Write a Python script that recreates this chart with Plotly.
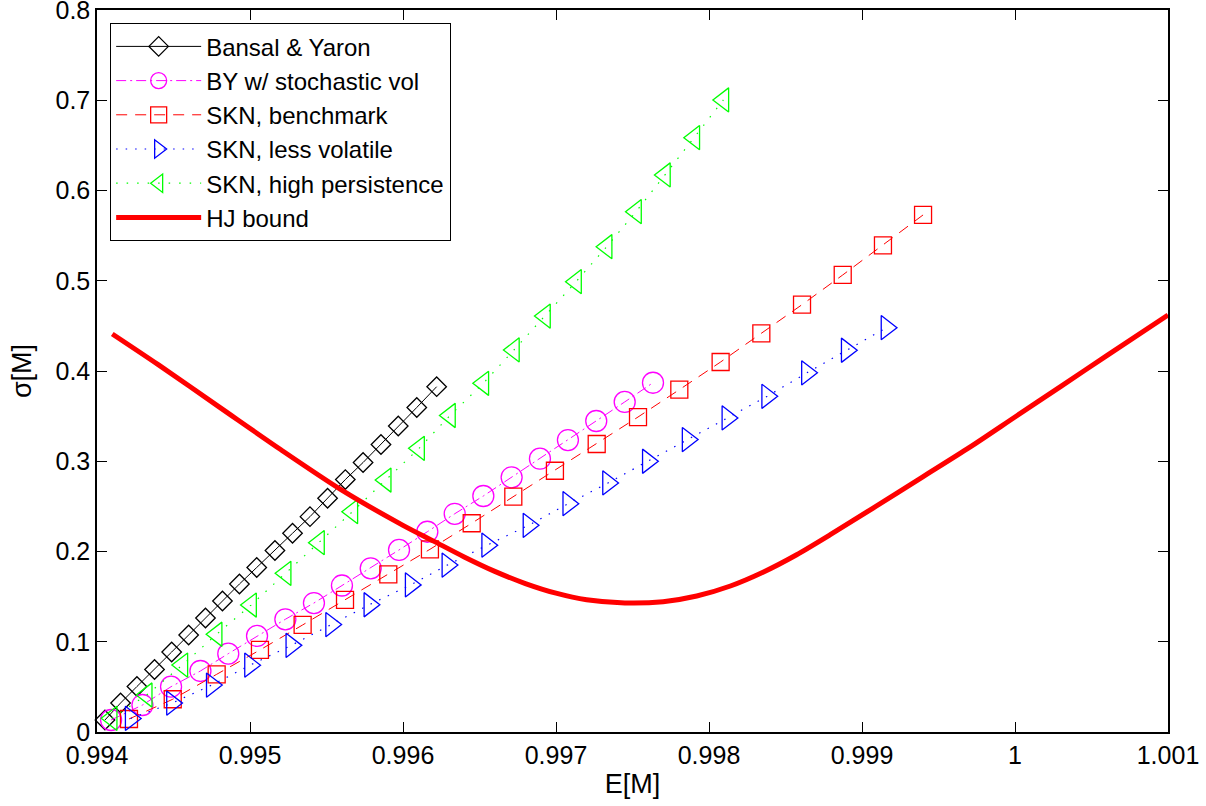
import plotly.graph_objects as go

# ---------------- data ----------------
by_x = [0.994052, 0.994154, 0.994261, 0.994376, 0.994488, 0.994599, 0.994709, 0.994820,
        0.994931, 0.995044, 0.995163, 0.995278, 0.995392, 0.995507, 0.995623, 0.995739,
        0.995856, 0.995969, 0.996090, 0.996220]
by_y = [0.0133, 0.0321, 0.0504, 0.0693, 0.0886, 0.1075, 0.1263, 0.1452, 0.1640, 0.1823,
        0.2011, 0.2202, 0.2386, 0.2590, 0.2797, 0.2986, 0.3186, 0.3391, 0.3596, 0.3826]

bysv_x = [0.994092, 0.994297, 0.994484, 0.994676, 0.994858, 0.995046, 0.995231, 0.995418,
          0.995601, 0.995789, 0.995974, 0.996159, 0.996338, 0.996525, 0.996710, 0.996895,
          0.997078, 0.997263, 0.997449, 0.997634]
bysv_y = [0.0133, 0.0299, 0.0502, 0.0676, 0.0868, 0.1064, 0.1249, 0.1429, 0.1623, 0.1814,
          0.2017, 0.2219, 0.2418, 0.2615, 0.2822, 0.3028, 0.3235, 0.3446, 0.3657, 0.3870]

skn_x = [0.994209, 0.994495, 0.994782, 0.995065, 0.995344, 0.995621, 0.995904, 0.996176,
         0.996449, 0.996721, 0.996993, 0.997266, 0.997536, 0.997806, 0.998076, 0.998342,
         0.998608, 0.998874, 0.999137, 0.999399]
skn_y = [0.0144, 0.0363, 0.0639, 0.0909, 0.1186, 0.1463, 0.1747, 0.2024, 0.2313, 0.2607,
         0.2895, 0.3191, 0.3490, 0.3793, 0.4100, 0.4418, 0.4735, 0.5064, 0.5393, 0.5729]

lv_x = [0.99422, 0.99449, 0.99475, 0.99500, 0.99527, 0.99553, 0.99578, 0.99605, 0.99629,
        0.99655, 0.99682, 0.99708, 0.99734, 0.99760, 0.99786, 0.99812, 0.99838, 0.99864,
        0.99890, 0.99916]
lv_y = [0.015, 0.032, 0.052, 0.074, 0.096, 0.119, 0.141, 0.163, 0.185, 0.207, 0.229,
        0.253, 0.276, 0.300, 0.324, 0.348, 0.372, 0.398, 0.423, 0.448]

hp_x = [0.994096, 0.994325, 0.994558, 0.994782, 0.995007, 0.995233, 0.995451, 0.995669,
        0.995887, 0.996105, 0.996307, 0.996525, 0.996725, 0.996928, 0.997131, 0.997331,
        0.997523, 0.997712, 0.997904, 0.998094]
hp_y = [0.0152, 0.0410, 0.0742, 0.1083, 0.1407, 0.1758, 0.2098, 0.2441, 0.2792, 0.3143,
        0.3507, 0.3864, 0.4233, 0.4609, 0.4990, 0.5377, 0.5765, 0.6172, 0.6585, 0.7003]

hj_x = [0.99410, 0.99440, 0.99480, 0.99520, 0.99560, 0.99600, 0.99620, 0.99640, 0.99660,
        0.99680, 0.99700, 0.99720, 0.99745, 0.99770, 0.99792, 0.99814, 0.99836, 0.99857,
        0.99879, 0.99907, 0.99940, 0.99970, 1.00000, 1.00030, 1.00060, 1.00100]
hj_y = [0.441, 0.407, 0.360, 0.313, 0.268, 0.229, 0.2115, 0.194, 0.178, 0.1645, 0.1538,
        0.1465, 0.1430, 0.1444, 0.1507, 0.1618, 0.1776, 0.1961, 0.2183, 0.2479, 0.283,
        0.315, 0.349, 0.383, 0.417, 0.462]

x_ticks = [0.994, 0.995, 0.996, 0.997, 0.998, 0.999, 1.000, 1.001]
x_tick_text = ["0.994", "0.995", "0.996", "0.997", "0.998", "0.999", "1", "1.001"]
y_ticks = [0, 0.1, 0.2, 0.3, 0.4, 0.5, 0.6, 0.7, 0.8]
y_tick_text = ["0", "0.1", "0.2", "0.3", "0.4", "0.5", "0.6", "0.7", "0.8"]

FONT = "Liberation Sans, Arial, Helvetica, sans-serif"

fig = go.Figure()

fig.add_trace(go.Scatter(
    x=by_x, y=by_y, mode="lines+markers", name="Bansal &amp; Yaron",
    line=dict(color="#000000", width=1),
    marker=dict(symbol="diamond-open", size=15, color="#000000", line=dict(width=1.3)),
    cliponaxis=False))

fig.add_trace(go.Scatter(
    x=bysv_x, y=bysv_y, mode="lines+markers", name="BY w/ stochastic vol",
    line=dict(color="#ff00ff", width=1, dash="10px,4px,2px,4px"),
    marker=dict(symbol="circle-open", size=21, color="#ff00ff", line=dict(width=1.3)),
    cliponaxis=False))

fig.add_trace(go.Scatter(
    x=skn_x, y=skn_y, mode="lines+markers", name="SKN, benchmark",
    line=dict(color="#ff0000", width=1, dash="11px,8px"),
    marker=dict(symbol="square-open", size=17, color="#ff0000", line=dict(width=1.3)),
    cliponaxis=False))

fig.add_trace(go.Scatter(
    x=lv_x, y=lv_y, mode="lines+markers", name="SKN, less volatile",
    line=dict(color="#0000ff", width=1.2, dash="1.5px,8px"),
    marker=dict(symbol="triangle-right-open", size=21, color="#0000ff", line=dict(width=1.3)),
    cliponaxis=False))

fig.add_trace(go.Scatter(
    x=hp_x, y=hp_y, mode="lines+markers", name="SKN, high persistence",
    line=dict(color="#00ff00", width=1.2, dash="1.5px,9px"),
    marker=dict(symbol="triangle-left-open", size=21, color="#00ff00", line=dict(width=1.3)),
    cliponaxis=False))

fig.add_trace(go.Scatter(
    x=hj_x, y=hj_y, mode="lines", name="HJ bound",
    line=dict(color="#ff0000", width=5, shape="spline", smoothing=0.8)))

axis_common = dict(
    showgrid=False, zeroline=False, showline=True, linecolor="#000000", linewidth=1.5,
    mirror="ticks", ticks="inside", ticklen=10, tickwidth=1, tickcolor="#000000",
    ticklabeloverflow="allow", automargin=False,
    tickfont=dict(family=FONT, size=25, color="#000000"))

fig.update_xaxes(range=[0.994, 1.001], tickvals=x_ticks, ticktext=x_tick_text,
                 title=dict(text="E[M]", font=dict(family=FONT, size=27, color="#000000"),
                            standoff=6),
                 **axis_common)
fig.update_yaxes(range=[0, 0.8], tickvals=y_ticks, ticktext=y_tick_text,
                 title=dict(text="σ[M]", font=dict(family=FONT, size=27, color="#000000"),
                            standoff=16),
                 **axis_common)

fig.update_layout(
    width=1206, height=806,
    margin=dict(l=97, r=38, t=10, b=74),
    paper_bgcolor="#ffffff", plot_bgcolor="#ffffff",
    font=dict(family=FONT, color="#000000"),
    legend=dict(x=0.012, y=0.982, xanchor="left", yanchor="top",
                bgcolor="#ffffff", bordercolor="#000000", borderwidth=1.3,
                font=dict(family=FONT, size=24, color="#000000"),
                tracegroupgap=0, itemwidth=85),
    showlegend=True)

fig.write_html("out.html", config={"displayModeBar": False},
               post_script="document.body.style.margin='0px';document.body.style.overflow='hidden';")
